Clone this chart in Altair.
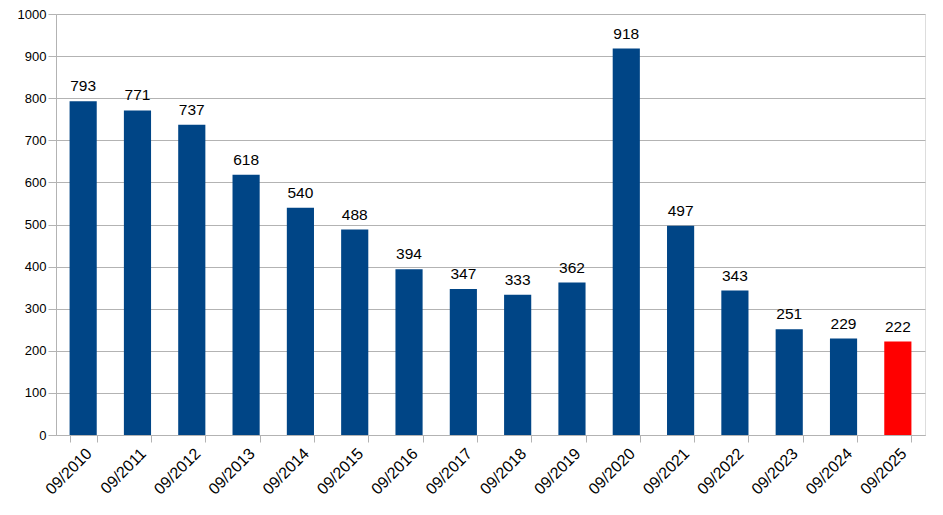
import altair as alt
import pandas as pd

categories = ["09/2010", "09/2011", "09/2012", "09/2013", "09/2014", "09/2015",
              "09/2016", "09/2017", "09/2018", "09/2019", "09/2020", "09/2021",
              "09/2022", "09/2023", "09/2024", "09/2025"]
values = [793, 771, 737, 618, 540, 488, 394, 347, 333, 362, 918, 497, 343, 251, 229, 222]
highlight = [False] * 15 + [True]

df = pd.DataFrame({"month": categories, "count": values, "hl": highlight})

x = alt.X("month:N", sort=categories, title=None,
          scale=alt.Scale(paddingInner=0.5, paddingOuter=0.25),
          axis=alt.Axis(labelAngle=-45, labelAlign="right", labelBaseline="top",
                        labelFont="Liberation Sans", labelFontSize=16, labelColor="#000000",
                        tickBand="extent", tickSize=7, tickColor="#b3b3b3",
                        domainColor="#b3b3b3", labelPadding=3, grid=False))
y = alt.Y("count:Q", title=None,
          scale=alt.Scale(domain=[0, 1000], nice=False),
          axis=alt.Axis(values=list(range(0, 1001, 100)), format="d",
                        labelFont="Liberation Sans",
                        labelFontSize=13, labelColor="#000000", tickSize=8,
                        tickColor="#b3b3b3", domainColor="#b3b3b3", gridColor="#b3b3b3",
                        labelPadding=2))

bars = alt.Chart(df).mark_bar().encode(
    x=x, y=y,
    color=alt.Color("hl:N", scale=alt.Scale(domain=[False, True], range=["#004586", "#ff0000"]),
                    legend=None),
)
labels = alt.Chart(df).mark_text(dy=-7, baseline="bottom", font="Liberation Sans",
                                 fontSize=15.5, color="#000000").encode(
    x=alt.X("month:N", sort=categories), y="count:Q", text="count:Q")

chart = (bars + labels).properties(
    width=869, height=421,
    autosize=alt.AutoSizeParams(type="none"),
    padding={"left": 48, "top": 6, "right": 10, "bottom": 70},
).configure_view(stroke="#b3b3b3").configure(background="white")

chart.save("out.html", embed_options={"renderer": "svg", "actions": False})
